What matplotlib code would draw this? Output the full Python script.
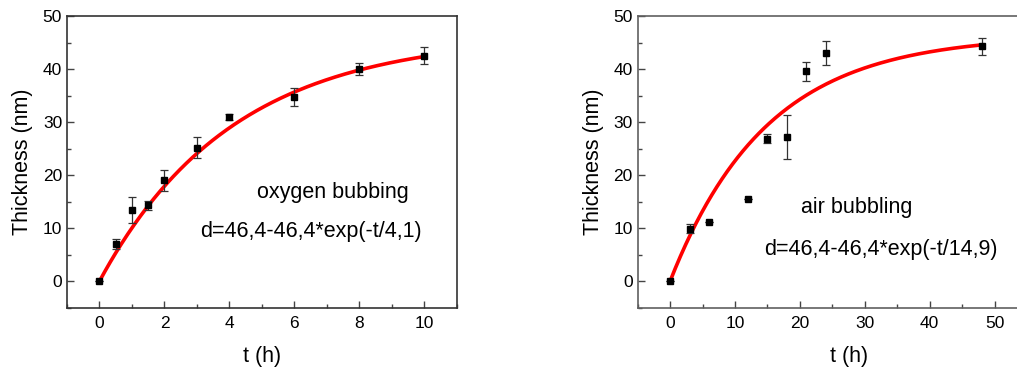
import matplotlib
matplotlib.use("Agg")
import matplotlib.pyplot as plt
from matplotlib.ticker import MultipleLocator
import numpy as np

# oxygen bubbling
t_oxy = [0, 0.5, 1, 1.5, 2, 3, 4, 6, 8, 10]
d_oxy = [0.0, 7.0, 13.4, 14.3, 19.0, 25.2, 30.9, 34.8, 40.0, 42.5]
err_oxy = [0.0, 0.9, 2.4, 0.8, 2.0, 2.0, 0.6, 1.7, 1.1, 1.6]
tau_oxy = 4.1

# air bubbling
t_air = [0, 3, 6, 12, 15, 18, 21, 24, 48]
d_air = [0.0, 9.9, 11.2, 15.4, 26.9, 27.2, 39.6, 43.0, 44.3]
err_air = [0.0, 0.9, 0.0, 0.0, 0.9, 4.1, 1.8, 2.2, 1.6]
tau_air = 14.9

d_max = 46.4

plt.rcParams['font.family'] = ['Liberation Sans', 'DejaVu Sans']

fig = plt.figure(figsize=(10.17, 3.70), dpi=100)
ax1 = fig.add_axes([0.0659, 0.1684, 0.3832, 0.7884])
# right panel runs past the figure edge (cut off like the source image)
ax2 = fig.add_axes([0.6270, 0.1684, 0.4148, 0.7884])


def draw(ax, t, d, err, tau, xlim, xmaj, xmin, label, formula, lpos, fpos, frame):
    tt = np.linspace(0, max(t), 300)
    ax.plot(tt, d_max - d_max * np.exp(-tt / tau), color="red", lw=2.6, zorder=2)
    ax.errorbar(t, d, yerr=err, fmt="s", color="black", ms=5,
                ecolor="#333333", elinewidth=0.9, capsize=3, capthick=0.9, zorder=3)
    ax.set_xlim(*xlim)
    ax.set_ylim(-5, 50)
    ax.xaxis.set_major_locator(MultipleLocator(xmaj))
    ax.xaxis.set_minor_locator(MultipleLocator(xmin))
    ax.yaxis.set_major_locator(MultipleLocator(10))
    ax.yaxis.set_minor_locator(MultipleLocator(5))
    ax.tick_params(which="both", direction="in", top=False, right=False,
                   color="#444444", width=1)
    ax.tick_params(which="major", length=5, labelsize=12.5)
    ax.tick_params(which="minor", length=3)
    ax.tick_params(axis="x", pad=6)
    ax.tick_params(axis="y", pad=3.5)
    for s in ax.spines.values():
        s.set_color(frame)
        s.set_linewidth(1.2)
    ax.set_xlabel("t (h)", fontsize=15.5, labelpad=11)
    ax.set_ylabel("Thickness (nm)", fontsize=15.5, labelpad=7)
    ax.text(lpos[0], lpos[1], label, fontsize=15.5, ha="center", va="center")
    ax.text(fpos[0], fpos[1], formula, fontsize=15.5, ha="center", va="center")


draw(ax1, t_oxy, d_oxy, err_oxy, tau_oxy, (-1, 11), 2, 1,
     "oxygen bubbing", "d=46,4-46,4*exp(-t/4,1)", (7.2, 16.7), (6.5, 9.3), "#333333")
draw(ax2, t_air, d_air, err_air, tau_air, (-5, 60), 10, 5,
     "air bubbling", "d=46,4-46,4*exp(-t/14,9)", (28.8, 13.9), (32.4, 5.9), "#606060")
ax2.set_xticks([0, 10, 20, 30, 40, 50])
ax2.xaxis.set_minor_locator(MultipleLocator(5))

fig.savefig("out.png", dpi=100)
